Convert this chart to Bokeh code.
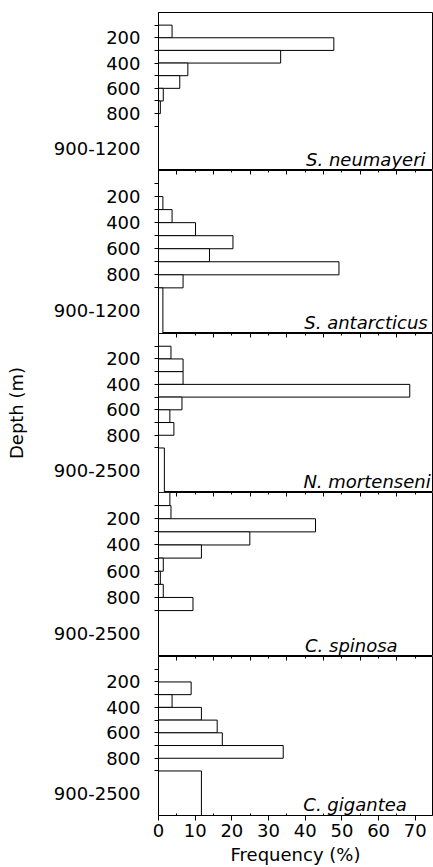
from bokeh.plotting import figure
from bokeh.layouts import column
from bokeh.models import Range1d, FixedTicker, LinearAxis, Label, ColumnDataSource
from bokeh.embed import file_html
from bokeh.resources import INLINE

# ---------------- data ----------------
species = ["S. neumayeri", "S. antarcticus", "N. mortenseni", "C. spinosa", "C. gigantea"]
deep_class_labels = ["900-1200", "900-1200", "900-2500", "900-2500", "900-2500"]

# depth classes (m); the last, open class is drawn down to the bottom of its panel
bin_top = [0, 100, 200, 300, 400, 500, 600, 700, 800, 900]
bin_bottom = [100, 200, 300, 400, 500, 600, 700, 800, 900, 1250]

freq_neumayeri = [0, 3.7, 47.8, 33.3, 8.0, 5.8, 1.3, 0.5, 0, 0]
freq_antarcticus = [0, 0, 1.2, 3.7, 10.1, 20.3, 13.9, 49.2, 6.7, 1.2]
freq_mortenseni = [0, 3.4, 6.7, 6.7, 68.5, 6.4, 3.1, 4.2, 0, 1.6]
freq_spinosa = [3.1, 3.4, 42.8, 24.9, 11.7, 1.3, 0.5, 1.3, 9.4, 0]
freq_gigantea = [0, 0, 8.9, 3.7, 11.7, 16.0, 17.4, 34.0, 0, 11.7]

depth_tick_values = [200, 400, 600, 800]
freq_tick_values = [0, 10, 20, 30, 40, 50, 60, 70]
freq_minor_ticks = [5, 15, 25, 35, 45, 55, 65]

series = [freq_neumayeri, freq_antarcticus, freq_mortenseni, freq_spinosa, freq_gigantea]

# ---------------- layout / style ----------------
W = 433
FRAME_H = [158, 163, 159, 164, 160]
LEFT = 158
TOP_FIRST = 12
BOTTOM_LAST = 51
X_MAX = 74.7
Y_MAX = bin_bottom[-1]
FONT = "DejaVu Sans"
FS = "18px"
species_label_x = [72.8, 73.4, 74.2, 65.2, 67.7]
species_label_y = 1163

deep_tick = (bin_top[-1] + bin_bottom[-1]) / 2.0
minor_depth = bin_top[1:]

x_range = Range1d(0, X_MAX)

figs = []
n = len(species)
for i in range(n):
    first = i == 0
    last = i == n - 1
    h = FRAME_H[i] + (TOP_FIRST if first else 0) + (BOTTOM_LAST if last else 0)
    p = figure(width=W, height=h, output_backend="svg", toolbar_location=None,
               x_range=x_range, y_range=Range1d(Y_MAX, 0),
               x_axis_location=None,
               min_border_left=LEFT, min_border_right=1,
               min_border_top=TOP_FIRST if first else 0,
               min_border_bottom=BOTTOM_LAST if last else 0,
               background_fill_color="white", border_fill_color="white")
    p.outline_line_color = "black"
    p.outline_line_width = 1
    p.grid.visible = False

    src = ColumnDataSource(dict(top=bin_top, bottom=bin_bottom,
                                left=[0] * len(bin_top), right=series[i]))
    p.quad(top="top", bottom="bottom", left="left", right="right", source=src,
           fill_color="white", line_color="black", line_width=1)

    # depth axis
    ya = p.yaxis[0]
    ya.ticker = FixedTicker(ticks=depth_tick_values + [deep_tick], minor_ticks=minor_depth)
    ya.major_label_overrides = {deep_tick: deep_class_labels[i]}
    ya.major_tick_out = 0
    ya.major_tick_in = 0
    ya.minor_tick_out = 4
    ya.minor_tick_in = 0
    ya.axis_line_color = "black"
    ya.major_label_standoff = 14
    ya.major_label_text_font = FONT
    ya.major_label_text_font_size = FS
    ya.major_label_text_color = "black"
    if i == 2:
        ya.axis_label = "Depth (m)"
        ya.axis_label_text_font = FONT
        ya.axis_label_text_font_size = FS
        ya.axis_label_text_font_style = "normal"
        ya.axis_label_text_color = "black"
        ya.axis_label_standoff = 24

    # frequency ticks at the boundary with the panel above (ticks only, no labels)
    if not first:
        for mt, ln in ((freq_minor_ticks, 4), (freq_tick_values, 2)):
            ta = LinearAxis(ticker=FixedTicker(ticks=[], minor_ticks=mt),
                            major_tick_in=0, major_tick_out=0,
                            minor_tick_in=ln, minor_tick_out=0,
                            axis_line_color=None, major_label_standoff=0)
            p.add_layout(ta, "above")

    if last:
        xa = LinearAxis(ticker=FixedTicker(ticks=freq_tick_values, minor_ticks=freq_minor_ticks))
        xa.major_tick_out = 5
        xa.major_tick_in = 0
        xa.minor_tick_out = 0
        xa.minor_tick_in = 2
        xa.axis_line_color = "black"
        xa.major_label_standoff = 3
        xa.major_label_text_font = FONT
        xa.major_label_text_font_size = FS
        xa.major_label_text_color = "black"
        xa.axis_label = "Frequency (%)"
        xa.axis_label_text_font = FONT
        xa.axis_label_text_font_size = FS
        xa.axis_label_text_font_style = "normal"
        xa.axis_label_text_color = "black"
        xa.axis_label_standoff = 4
        p.add_layout(xa, "below")

    p.add_layout(Label(x=species_label_x[i], y=species_label_y, text=species[i],
                       text_align="right", text_baseline="alphabetic",
                       text_font=FONT, text_font_size=FS, text_font_style="italic",
                       text_color="black"))
    figs.append(p)

layout = column(*figs, spacing=0)
open("out.html", "w").write(file_html(layout, INLINE))
